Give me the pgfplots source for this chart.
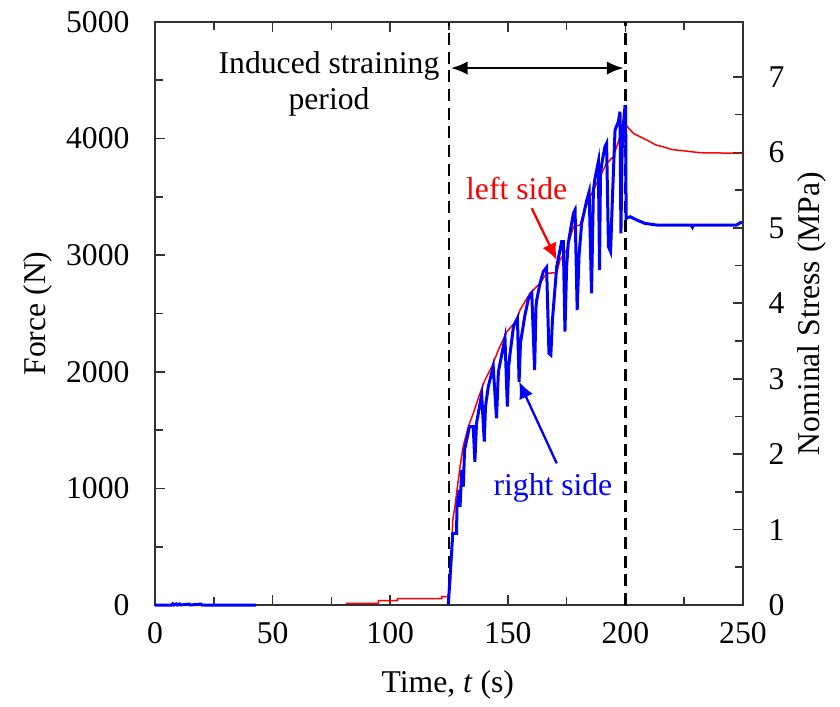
\documentclass[border=0pt]{standalone}
\usepackage{fontspec}
\setmainfont{Liberation Serif}
\usepackage{pgfplots}
\pgfplotsset{compat=1.18}
\usetikzlibrary{arrows.meta}

\definecolor{axgray}{RGB}{50,50,50}

\pgfplotsset{
  common/.style={
    at={(0,0)}, anchor=south west,
    scale only axis, width=176.4pt, height=174.9pt,
    xmin=0, xmax=250,
    clip=false,
    /pgf/number format/assume math mode=true,
    axis line style={axgray, line width=0.6pt},
    every tick/.style={axgray, line width=0.5pt},
    major tick length=3pt, minor tick length=2.4pt,
    tick align=inside,
  },
}

\begin{document}
\fontsize{9.5}{11}\selectfont
\begin{tikzpicture}
\useasboundingbox (-46.5pt,-30.3pt) rectangle (205.5pt,181.5pt);

\begin{axis}[common,
    ymin=0, ymax=5000,
    xtick={0,50,...,250}, minor x tick num=1,
    ytick={0,1000,...,5000}, minor y tick num=1,
    xtick pos=both, ytick pos=left,
    scaled y ticks=false,
    yticklabel style={xshift=-4.3pt},
    xticklabel style={yshift=-1.9pt},
    /pgf/number format/1000 sep={},
    xlabel={Time, \textit{t} (s)},
    ylabel={Force (N)},
    x label style={at={(axis description cs:0.498,-0.137)}, anchor=center},
    y label style={at={(axis description cs:-0.199,0.5)}, anchor=center},
]
% dashed markers of the straining period
\addplot[black, line width=0.8pt, dash pattern=on 3.6pt off 2pt] coordinates {(125,0) (125,5000)};
\addplot[black, line width=0.8pt, dash pattern=on 3.6pt off 2pt] coordinates {(200,0) (200,5000)};

% left side (red)
\addplot[red, line width=0.45pt] coordinates {
(81,15) (95,15) (95,37) (103,37) (103,54) (122,54) (122,71) (124.5,71)
(125.5,150) (126,400) (126.6,729) (127.6,858) (128.5,1000) (129.7,1186)
(131,1358) (133.2,1529) (135.3,1644) (138.2,1816) (140.3,1930) (143.2,2044)
(146,2187) (149.5,2340) (153.8,2444) (155.2,2530) (159.4,2673) (163.7,2759)
(166.5,2845) (170.8,2850) (172.2,2959) (175,3045) (177.9,3244) (180.7,3259)
(183.6,3445) (187.8,3617) (192,3788) (194.9,3845) (197.7,4016) (199.8,4125)
(200.5,4110) (203.4,4045) (209,3988) (213,3945) (216,3930) (220,3905)
(224.6,3896) (231.7,3879) (250,3874)
};

% right side (blue), idle part
\addplot[blue, line width=0.9pt] coordinates {
(0,0) (7,0) (7.5,10) (8,0) (9,10) (9.5,0) (10.5,10) (11,0) (14.5,8) (15,0)
(19.5,8) (20,0) (43,0)
};
% right side (blue), straining part
\addplot[blue, line width=0.9pt] coordinates {
(124.7,0) (126.1,446) (126.6,615) (128.2,615) (128.4,843) (129.3,986)
(129.7,843) (130.4,1158) (131.1,1015) (131.6,1329) (133.7,1529) (135.3,1529)
(136.0,1229) (136.7,1558) (138.2,1729) (138.9,1801) (140.0,1401) (140.5,1700)
(141.7,1872) (143.8,2044) (145.2,1601) (146.0,2000) (146.7,2073) (148.8,2287)
(149.8,1701) (150.4,2050) (150.9,2144) (152.4,2387) (154.1,2459) (154.8,1915)
(155.4,2250) (157.3,2487) (158.8,2630) (160.2,2673) (161.4,2015) (162.0,2560)
(162.3,2616) (163.7,2759) (165.1,2859) (166.5,2896) (167.5,2159) (168.3,2144)
(169.0,2450) (170.8,2902) (172.9,3116) (173.6,3116) (174.3,2344) (175.0,2900)
(175.7,3102) (177.9,3359) (178.6,3388) (179.5,2530) (180.3,3000) (181.4,3273)
(183.6,3473) (184.6,3545) (185.6,2673) (186.4,3559) (187.1,3659) (188.5,3802)
(189.0,2873) (189.4,3700) (190.0,3788) (191.3,3931) (192.0,3960) (192.8,3073)
(193.7,3030) (194.5,3500) (195.6,4074) (197.0,4145) (197.7,4231) (198.1,3188)
(198.6,3900) (199.1,4102) (199.8,4274) (200.1,4274) (200.3,3316) (202,3330)
(204.8,3302) (208.3,3273) (213.3,3259) (228,3259) (228.5,3240) (229,3259)
(247.3,3259) (248.9,3279) (250,3279)
};

% annotations
\draw[black, line width=0.7pt, {Latex[length=5pt,width=4pt]}-{Latex[length=5pt,width=4pt]}]
  (axis cs:125.8,4605) -- (axis cs:199.2,4605);
\node[align=center, inner sep=0pt] at (axis cs:74,4468) {Induced straining\\period};

\node[red, inner sep=0pt] at (axis cs:153.8,3576) {left side};
\draw[red, line width=0.7pt, -{Latex[length=5pt,width=4.5pt]}]
  (axis cs:160.2,3402) -- (axis cs:170.8,2959);

\node[blue, inner sep=0pt] at (axis cs:169.2,1003) {right side};
\draw[blue, line width=0.7pt, -{Latex[length=5pt,width=4.5pt]}]
  (axis cs:170.8,1215) -- (axis cs:154.8,1915);
\end{axis}

\begin{axis}[common,
    ymin=0, ymax=7.728,
    axis x line=none, axis y line*=right,
    ytick={0,1,...,7}, minor y tick num=1,
    yticklabel style={xshift=4.3pt},
    ylabel={Nominal Stress (MPa)},
    y label style={at={(axis description cs:1.117,0.5)}, anchor=center},
]
\addplot[draw=none] coordinates {(0,0) (250,0)};
\end{axis}
\end{tikzpicture}
\end{document}
